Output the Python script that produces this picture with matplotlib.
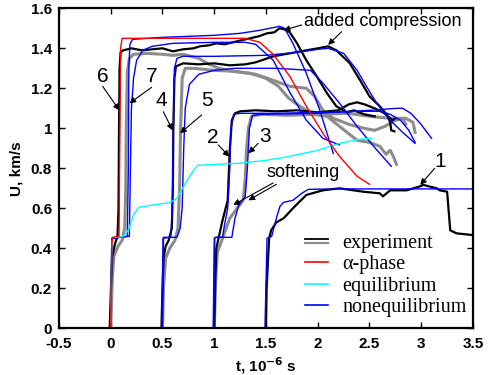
import matplotlib
matplotlib.use('Agg')
import matplotlib.pyplot as plt
from matplotlib.lines import Line2D
from matplotlib.legend_handler import HandlerBase

plt.rcParams['font.family'] = ['Liberation Sans', 'DejaVu Sans']

# ---- experiment (black: gauges 1, 2, 4, 6; gray: gauges 3, 5, 7) ----
exp6_t = [-0.5, -0.01, 0.005, 0.015, 0.04, 0.065, 0.075, 0.08, 0.085, 0.095,
          0.12, 0.2, 0.3, 0.4, 0.5, 0.6, 0.7, 0.8, 0.86, 0.95, 1.02, 1.1, 1.18, 1.26,
          1.345, 1.43, 1.51, 1.58, 1.63, 1.68, 1.73, 1.80, 1.89, 1.99, 2.09, 2.18,
          2.28, 2.35, 2.45, 2.55]
exp6_U = [0, 0, 0.25, 0.36, 0.42, 0.46, 0.6, 1.0, 1.3, 1.38,
          1.39, 1.40, 1.39, 1.395, 1.40, 1.385, 1.395, 1.40, 1.41, 1.415, 1.425, 1.42, 1.43, 1.44,
          1.45, 1.46, 1.475, 1.48, 1.50, 1.495, 1.48, 1.425, 1.34, 1.26, 1.175, 1.11,
          1.08, 1.09, 1.07, 1.06]

exp7_t = [0.0, 0.015, 0.03, 0.07, 0.11, 0.135, 0.145, 0.15, 0.16, 0.18, 0.22, 0.35, 0.5,
          0.6, 0.7, 0.85, 0.95, 1.05, 1.18, 1.35, 1.5, 1.62, 1.72, 1.83, 1.95, 2.09,
          2.21, 2.38, 2.5, 2.6, 2.66, 2.7, 2.73, 2.76]
exp7_U = [0, 0.25, 0.36, 0.41, 0.44, 0.5, 0.7, 1.0, 1.28, 1.35, 1.37, 1.375, 1.37,
          1.365, 1.37, 1.35, 1.32, 1.30, 1.285, 1.275, 1.25, 1.21, 1.15, 1.11, 1.07, 1.06,
          1.01, 0.94, 0.93, 0.91, 0.87, 0.89, 0.86, 0.82]

exp4_t = [0.49, 0.5, 0.51, 0.53, 0.56, 0.59, 0.6, 0.605, 0.615, 0.63, 0.7, 0.85, 1.0,
          1.15, 1.3, 1.4, 1.57, 1.73, 1.89, 2.0, 2.1, 2.18, 2.31, 2.41, 2.5, 2.6,
          2.67, 2.70, 2.71, 2.74]
exp4_U = [0, 0.2, 0.35, 0.41, 0.44, 0.5, 0.7, 1.0, 1.25, 1.31, 1.325, 1.32, 1.325,
          1.315, 1.32, 1.33, 1.36, 1.375, 1.39, 1.40, 1.41, 1.39, 1.325, 1.24, 1.16, 1.11,
          1.067, 1.03, 0.99, 0.985]

exp5_t = [0.5, 0.51, 0.53, 0.57, 0.62, 0.65, 0.665, 0.675, 0.69, 0.72, 0.8, 1.0, 1.2,
          1.4, 1.57, 1.73, 1.89, 1.97, 2.05, 2.15, 2.3, 2.45, 2.55, 2.65, 2.75, 2.82, 2.85]
exp5_U = [0, 0.2, 0.35, 0.4, 0.44, 0.5, 0.7, 1.0, 1.25, 1.30, 1.30, 1.29, 1.285,
          1.27, 1.24, 1.21, 1.20, 1.16, 1.09, 1.05, 1.02, 1.00, 0.99, 1.01, 1.04, 1.05, 1.02]

exp2_t = [1.0, 1.01, 1.02, 1.05, 1.08, 1.11, 1.13, 1.15, 1.17, 1.2, 1.25, 1.4, 1.6,
          1.8, 2.0, 2.2, 2.3, 2.38, 2.45, 2.55, 2.63, 2.68, 2.72, 2.75]
exp2_U = [0, 0.25, 0.40, 0.47, 0.54, 0.60, 0.64, 0.89, 1.04, 1.075, 1.085, 1.09, 1.085,
          1.09, 1.08, 1.09, 1.12, 1.13, 1.12, 1.10, 1.08, 1.06, 1.04, 1.05]

exp3_t = [1.0, 1.015, 1.03, 1.08, 1.15, 1.22, 1.28, 1.30, 1.31, 1.33, 1.36, 1.45, 1.7,
          2.0, 2.3, 2.5, 2.7, 2.85, 2.92, 2.94]
exp3_U = [0, 0.25, 0.38, 0.45, 0.55, 0.60, 0.64, 0.75, 0.88, 1.0, 1.06, 1.07, 1.065,
          1.07, 1.075, 1.06, 1.05, 1.05, 1.03, 0.98]

exp1_t = [1.5, 1.506, 1.53, 1.55, 1.60, 1.67, 1.76, 1.89, 2.05, 2.21, 2.44, 2.60, 2.63,
          2.70, 2.86, 2.99, 3.02, 3.15, 3.18, 3.25, 3.28, 3.34, 3.5]
exp1_U = [0, 0.2, 0.45, 0.49, 0.53, 0.55, 0.60, 0.667, 0.69, 0.70, 0.683, 0.675, 0.66,
          0.69, 0.69, 0.71, 0.717, 0.70, 0.69, 0.683, 0.49, 0.475, 0.466]

# ---- nonequilibrium model (blue), one per gauge ----
sim1_t = [1.49, 1.51, 1.555, 1.60, 1.635, 1.67, 1.76, 1.845, 1.91, 2.2, 3.5]
sim1_U = [0, 0.45, 0.46, 0.55, 0.61, 0.63, 0.64, 0.675, 0.695, 0.697, 0.697]

sim2_t = [0.99, 1.0, 1.01, 1.08, 1.10, 1.13, 1.15, 1.16, 1.19, 1.25, 1.6, 2.0, 2.4,
          2.6, 2.7, 2.8, 2.88, 2.94]
sim2_U = [0, 0.45, 0.455, 0.455, 0.52, 0.6, 0.8, 1.0, 1.07, 1.075, 1.075, 1.08, 1.085,
          1.085, 1.07, 1.04, 0.99, 0.93]

sim3_t = [0.995, 1.005, 1.02, 1.17, 1.2, 1.24, 1.3, 1.32, 1.34, 1.37, 1.45, 2.0, 2.5,
          2.76, 2.82, 2.9, 2.99, 3.10]
sim3_U = [0, 0.45, 0.455, 0.455, 0.55, 0.62, 0.66, 0.8, 1.0, 1.065, 1.07, 1.075, 1.09,
          1.10, 1.10, 1.075, 1.025, 0.95]

sim4_t = [0.495, 0.505, 0.58, 0.595, 0.605, 0.615, 0.64, 0.7, 1.0, 1.5, 1.8, 2.0, 2.1,
          2.25, 2.38, 2.47, 2.57, 2.7, 2.82, 2.94]
sim4_U = [0, 0.45, 0.455, 0.6, 1.0, 1.3, 1.35, 1.36, 1.36, 1.365, 1.38, 1.395, 1.40,
          1.375, 1.29, 1.21, 1.125, 1.04, 0.98, 0.925]

sim5_t = [0.5, 0.51, 0.64, 0.67, 0.69, 0.705, 0.72, 0.76, 0.85, 1.0, 1.2, 1.6, 1.93,
          2.05, 2.21, 2.38, 2.54, 2.71]
sim5_U = [0, 0.455, 0.455, 0.5, 0.6, 0.9, 1.1, 1.22, 1.27, 1.29, 1.30, 1.30, 1.29,
          1.226, 1.126, 1.01, 0.91, 0.81]

sim6_t = [0.0, 0.01, 0.16, 0.17, 0.175, 0.185, 0.21, 0.5, 1.0, 1.25, 1.44, 1.63, 1.68,
          1.76, 1.89, 2.02, 2.15]
sim6_U = [0, 0.45, 0.46, 0.8, 1.3, 1.42, 1.445, 1.455, 1.465, 1.475, 1.49, 1.51, 1.50,
          1.425, 1.275, 1.09, 0.875]

sim7_t = [0.0, 0.01, 0.18, 0.19, 0.2, 0.22, 0.25, 0.31, 0.4, 0.6, 1.0, 1.3, 1.4, 1.57,
          1.73, 1.89, 2.05, 2.21]
sim7_U = [0, 0.45, 0.46, 0.8, 1.1, 1.25, 1.34, 1.39, 1.41, 1.425, 1.43, 1.43, 1.42,
          1.34, 1.18, 1.04, 0.95, 0.917]

# ---- equilibrium (cyan) and alpha-phase (red) ----
eq_t = [0, 0.01, 0.02, 0.12, 0.17, 0.22, 0.27, 0.41, 0.57, 0.64, 0.73, 0.80, 0.84,
        1.0, 1.25, 1.5, 1.73, 2.0, 2.21, 2.4, 2.52]
eq_U = [0, 0.42, 0.455, 0.458, 0.49, 0.567, 0.605, 0.617, 0.628, 0.65, 0.733, 0.79, 0.815,
        0.82, 0.825, 0.84, 0.86, 0.89, 0.925, 0.945, 0.95]

alpha_t = [0, 0.01, 0.02, 0.08, 0.095, 0.11, 0.3, 1.0, 1.3, 1.44, 1.57, 1.73, 1.89,
           2.05, 2.21, 2.38, 2.50]
alpha_U = [0, 0.42, 0.455, 0.46, 1.40, 1.45, 1.45, 1.45, 1.45, 1.43, 1.37, 1.26, 1.11,
           0.975, 0.86, 0.76, 0.72]

GRAY = '#8c8c8c'


class DoubleLine(HandlerBase):
    # black + gray pair for the "experiment" entry
    def create_artists(self, legend, orig, x0, y0, w, h, fontsize, trans):
        top = Line2D([x0, x0 + w], [y0 + h * 0.62] * 2, color='k', lw=1.3, transform=trans)
        bot = Line2D([x0, x0 + w], [y0 + h * 0.32] * 2, color=GRAY, lw=1.6, transform=trans)
        return [top, bot]


fig = plt.figure(figsize=(4.9, 3.75), dpi=100)
ax = fig.add_axes([0.1204, 0.1245, 0.8449, 0.8533])

for t, u in [(exp7_t, exp7_U), (exp5_t, exp5_U), (exp3_t, exp3_U)]:
    ax.plot(t, u, color=GRAY, lw=2.2)
for t, u in [(exp6_t, exp6_U), (exp4_t, exp4_U), (exp2_t, exp2_U), (exp1_t, exp1_U)]:
    ax.plot(t, u, color='k', lw=1.6)
for t, u in [(sim1_t, sim1_U), (sim2_t, sim2_U), (sim3_t, sim3_U), (sim4_t, sim4_U),
             (sim5_t, sim5_U), (sim6_t, sim6_U), (sim7_t, sim7_U)]:
    ax.plot(t, u, color='b', lw=1.0)
ax.plot(eq_t, eq_U, color='cyan', lw=1.0)
ax.plot(alpha_t, alpha_U, color='r', lw=1.0)

ax.set_xlim(-0.5, 3.5)
ax.set_ylim(0, 1.6)
ax.set_xticks([-0.5, 0, 0.5, 1, 1.5, 2, 2.5, 3, 3.5])
ax.set_xticklabels(['-0.5', '0', '0.5', '1', '1.5', '2', '2.5', '3', '3.5'])
ax.set_yticks([0, 0.2, 0.4, 0.6, 0.8, 1, 1.2, 1.4, 1.6])
ax.set_yticklabels(['0', '0.2', '0.4', '0.6', '0.8', '1', '1.2', '1.4', '1.6'])
ax.tick_params(direction='in', top=True, right=True, length=4, width=1,
               labelsize=11)
ax.tick_params(axis='x', pad=6)
ax.tick_params(axis='y', pad=5)
for lab in ax.get_xticklabels() + ax.get_yticklabels():
    lab.set_fontweight('bold')
for s in ax.spines.values():
    s.set_linewidth(1.6)

ax.set_xlabel('t, 10$^{\\mathbf{-6}}$ s', fontsize=11, fontweight='bold', labelpad=3)
ax.set_ylabel('U, km/s', fontsize=11, fontweight='bold', labelpad=5)

arrow = dict(arrowstyle='-|>', color='k', lw=0.8, mutation_scale=9,
             shrinkA=0, shrinkB=0)
# gauge numbers: (label, text pos, arrow tail, arrow head)
gauges = [('6', (-0.08, 1.26), (-0.078, 1.21), (0.083, 1.09)),
          ('7', (0.395, 1.26), (0.395, 1.205), (0.18, 1.125)),
          ('4', (0.49, 1.14), (0.508, 1.083), (0.598, 0.99)),
          ('5', (0.927, 1.14), (0.878, 1.067), (0.67, 0.975)),
          ('2', (0.99, 0.955), (1.04, 0.917), (1.145, 0.858)),
          ('3', (1.49, 0.96), (1.425, 0.925), (1.33, 0.875)),
          ('1', (3.18, 0.833), (3.13, 0.80), (2.99, 0.717))]
for lab, pos, tail, head in gauges:
    ax.text(pos[0], pos[1], lab, fontsize=15, ha='center', va='center')
    ax.annotate('', xy=head, xytext=tail, arrowprops=arrow)

ax.text(2.625, 1.533, 'added compression', fontsize=13, ha='center', va='center')
ax.annotate('', xy=(1.67, 1.49), xytext=(1.844, 1.517), arrowprops=arrow)
ax.annotate('', xy=(2.10, 1.417), xytext=(2.23, 1.483), arrowprops=arrow)

ax.text(1.857, 0.778, 'softening', fontsize=13, ha='center', va='center')
ax.annotate('', xy=(1.184, 0.617), xytext=(1.57, 0.727), arrowprops=arrow)
ax.annotate('', xy=(1.33, 0.64), xytext=(1.60, 0.72), arrowprops=arrow)

exp_handle = Line2D([], [], color='k')
handles = [exp_handle,
           Line2D([], [], color='r', lw=1.2),
           Line2D([], [], color='cyan', lw=1.2),
           Line2D([], [], color='b', lw=1.2)]
labels = ['experiment', '\u03b1-phase', 'equilibrium', 'nonequilibrium']
ax.legend(handles, labels, handler_map={exp_handle: DoubleLine()},
          loc='lower left', bbox_to_anchor=(0.595, 0.035), frameon=False,
          borderpad=0, borderaxespad=0, handlelength=1.15, handletextpad=0.7,
          labelspacing=0.12, prop={'family': 'Liberation Serif', 'size': 14.5})

fig.savefig('out.png', dpi=100)
